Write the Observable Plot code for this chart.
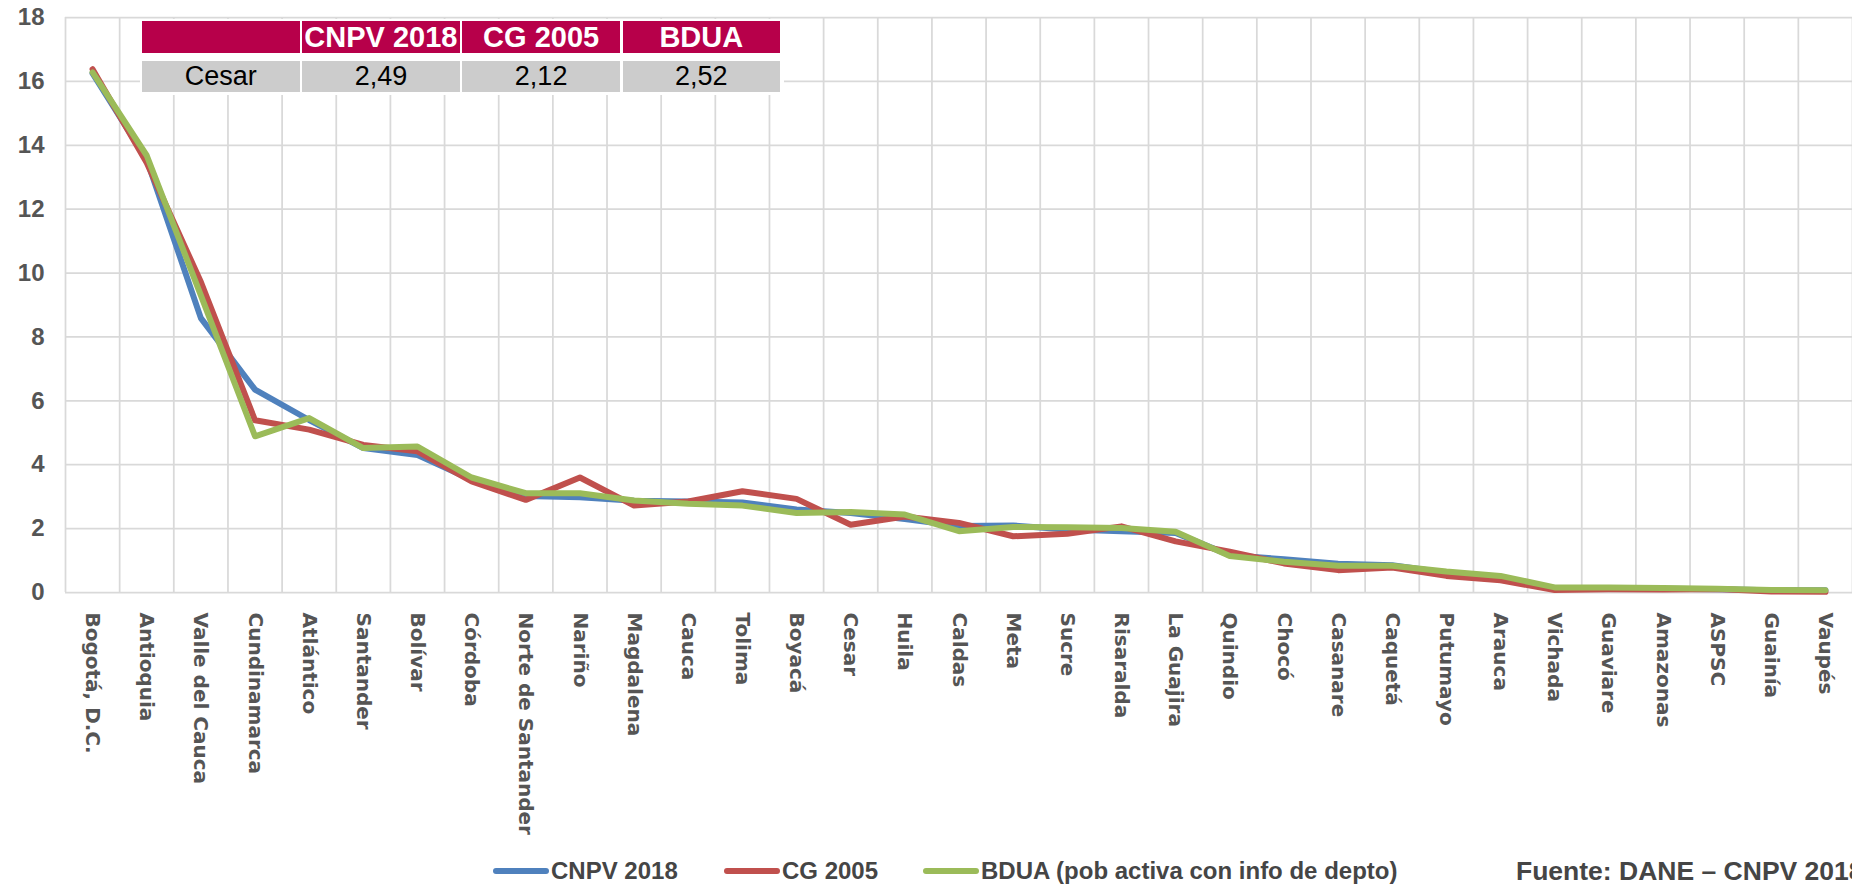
<!DOCTYPE html>
<html><head><meta charset="utf-8">
<script src="https://cdn.jsdelivr.net/npm/d3@7"></script>
<script src="https://cdn.jsdelivr.net/npm/@observablehq/plot@0.6"></script>
<style>
html,body{margin:0;padding:0;background:#fff;overflow:hidden;width:1852px;height:886px}
#wrap{position:relative;width:1852px;height:886px;overflow:hidden}
#chart svg{display:block}
#inset{position:absolute;left:140px;top:19px;width:644px;height:76px;background:#fff}
.row{position:absolute;left:2px;display:flex;gap:2.7px}
.cell{width:157.5px;display:flex;align-items:center;justify-content:center;font-family:"Liberation Sans",Arial,sans-serif;white-space:nowrap}
.hdr{top:2px}.val{top:42px}
.hdr .cell{background:#b7004a;color:#fff;font-weight:bold;font-size:29px;height:32px}
.val .cell{background:#cccccc;color:#000;font-size:27px;height:31px}
#legend{position:absolute;left:0;top:856px;width:1852px;height:30px;font-family:"Liberation Sans",Arial,sans-serif;font-weight:bold;font-size:24px;color:#454545}
.item{position:absolute;top:0;height:30px;display:flex;align-items:center;white-space:nowrap}
.sw{width:56px;height:6px;border-radius:3px;margin-right:2px}
.src{font-size:26.5px}
</style>
</head><body>
<div id="wrap"><div id="chart"></div><div id="inset"></div><div id="legend"></div></div>
<script>
const categories = ["Bogotá, D.C.","Antioquia","Valle del Cauca","Cundinamarca","Atlántico","Santander","Bolívar","Córdoba","Norte de Santander","Nariño","Magdalena","Cauca","Tolima","Boyacá","Cesar","Huila","Caldas","Meta","Sucre","Risaralda","La Guajira","Quindio","Chocó","Casanare","Caquetá","Putumayo","Arauca","Vichada","Guaviare","Amazonas","ASPSC","Guainía","Vaupés"];
const cnpv2018 = [16.25,13.55,8.59,6.35,5.40,4.52,4.30,3.53,3.02,2.98,2.87,2.85,2.82,2.60,2.49,2.30,2.08,2.10,1.97,1.92,1.86,1.17,1.04,0.90,0.85,0.62,0.46,0.13,0.13,0.12,0.10,0.07,0.07];
const cg2005 = [16.38,13.45,9.72,5.39,5.10,4.62,4.42,3.48,2.90,3.60,2.72,2.85,3.17,2.93,2.12,2.38,2.18,1.76,1.84,2.07,1.60,1.28,0.91,0.70,0.78,0.52,0.38,0.08,0.10,0.09,0.11,0.03,0.02];
const bdua = [16.28,13.68,9.30,4.89,5.46,4.52,4.57,3.60,3.11,3.11,2.88,2.78,2.72,2.49,2.52,2.44,1.92,2.05,2.04,2.02,1.90,1.14,0.96,0.84,0.84,0.66,0.52,0.16,0.16,0.14,0.12,0.08,0.07];
const yTicks = [0,2,4,6,8,10,12,14,16,18];
const seriesNames = ["CNPV 2018","CG 2005","BDUA (pob activa con info de depto)"];
const seriesColors = ["#4f81bd","#c0504d","#9bbb59"];
const tableHeader = ["","CNPV 2018","CG 2005","BDUA"];
const tableRow = ["Cesar","2,49","2,12","2,52"];
const source = "Fuente: DANE – CNPV 2018";

const n = categories.length;
const idx = d3.range(n);
const grid = {stroke:"#d9d9d9", strokeOpacity:1, strokeWidth:1.75};
const lineOpts = (vals, c) => ({x: i => i, y: i => vals[i], stroke: c, strokeWidth: 6, strokeLinecap: "round", strokeLinejoin: "round"});

const chart = Plot.plot({
  width: 1852, height: 856,
  marginLeft: 65, marginRight: 0, marginTop: 17, marginBottom: 264,
  style: {background: "#fff", color: "#555555", overflow: "visible"},
  x: {type: "linear", domain: [-0.5, n - 0.5]},
  y: {domain: [0, 18]},
  marks: [
    Plot.gridY(yTicks, grid),
    Plot.gridX(d3.range(n + 1).map(i => i - 0.5), grid),
    Plot.axisY(yTicks, {tickSize: 0, tickPadding: 21, fontSize: 24, fontWeight: "bold", fontFamily: "Liberation Sans, Arial, sans-serif", label: null}),
    Plot.axisX(idx, {tickFormat: i => categories[i], tickRotate: 90, tickSize: 0, tickPadding: 20, fontSize: 20, fontWeight: "bold", fontFamily: "DejaVu Sans, sans-serif", label: null}),
    Plot.line(idx, lineOpts(cnpv2018, seriesColors[0])),
    Plot.line(idx, lineOpts(cg2005, seriesColors[1])),
    Plot.line(idx, lineOpts(bdua, seriesColors[2]))
  ]
});
document.getElementById("chart").appendChild(chart);

// inset table
const inset = document.getElementById("inset");
[[tableHeader,"hdr"],[tableRow,"val"]].forEach(([cells, cls]) => {
  const r = document.createElement("div");
  r.className = "row " + cls;
  cells.forEach(t => { const c = document.createElement("div"); c.className = "cell"; c.textContent = t; r.appendChild(c); });
  inset.appendChild(r);
});

// legend
const legend = document.getElementById("legend");
const legendLeft = [493, 724, 923];
seriesNames.forEach((name, k) => {
  const it = document.createElement("div");
  it.className = "item"; it.style.left = legendLeft[k] + "px";
  it.innerHTML = `<span class="sw" style="background:${seriesColors[k]}"></span><span>${name}</span>`;
  legend.appendChild(it);
});
const src = document.createElement("div");
src.className = "item src"; src.style.left = "1516px"; src.textContent = source;
legend.appendChild(src);
</script>
</body></html>
